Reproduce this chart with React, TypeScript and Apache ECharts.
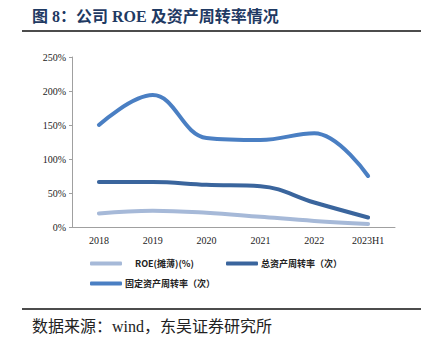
import React, { useEffect, useRef } from "react";
import * as echarts from "echarts";

const categories = ["2018", "2019", "2020", "2021", "2022", "2023H1"];
const roe = [20, 24, 21, 15, 9, 4.5];
const totalTurnover = [66, 66, 62, 60, 36, 14];
const fixedTurnover = [150, 194, 131, 128, 138, 75];
const seriesNames = ["ROE(摊薄)(%)", "总资产周转率（次）", "固定资产周转率（次）"];
const yTicks = [0, 50, 100, 150, 200, 250];

const colors = ["#a6b9d8", "#3a659d", "#4a7fc3"];
const serif = "'Liberation Serif', 'Times New Roman', 'Noto Sans CJK SC', serif";
const cjk = "'Noto Sans CJK SC', sans-serif";

export default function App() {
  const ref = useRef<HTMLDivElement>(null);
  useEffect(() => {
    if (!ref.current) return;
    const chart = echarts.init(ref.current, null, { renderer: "svg" });
    const values = [roe, totalTurnover, fixedTurnover];
    const legendPos = [
      { left: 90, top: 259 },
      { left: 226, top: 259 },
      { left: 90, top: 279 },
    ];
    chart.setOption({
      animation: false,
      backgroundColor: "#ffffff",
      grid: { left: 72, right: 36, top: 57, bottom: 113 },
      legend: seriesNames.map((n, i) => ({
        data: [n],
        left: legendPos[i].left,
        top: legendPos[i].top,
        padding: 0,
        itemWidth: 32,
        itemHeight: 4,
        itemGap: 0,
        icon: "roundRect",
        textStyle: { fontFamily: cjk, fontSize: 9, color: "#222", fontWeight: "bold", padding: [0, 0, 0, i === 0 ? 8 : -2] },
      })),
      xAxis: {
        type: "category",
        data: categories,
        boundaryGap: true,
        axisLine: { lineStyle: { color: "#a0a0a0", width: 1 } },
        axisTick: { show: false },
        axisLabel: { fontFamily: serif, fontSize: 10, color: "#222", margin: 8 },
      },
      yAxis: {
        type: "value",
        min: yTicks[0],
        max: yTicks[yTicks.length - 1],
        interval: 50,
        axisLine: { show: true, lineStyle: { color: "#a0a0a0", width: 1 } },
        axisTick: { show: true, length: 3, lineStyle: { color: "#a0a0a0" } },
        splitLine: { show: false },
        axisLabel: { formatter: "{value}%", fontFamily: serif, fontSize: 10, color: "#222", margin: 6 },
      },
      series: seriesNames.map((n, i) => ({
        name: n,
        type: "line",
        data: values[i],
        smooth: 0.4,
        showSymbol: false,
        symbol: "none",
        color: colors[i],
        lineStyle: { width: 4, color: colors[i], cap: "round" },
      })),
      graphic: [
        {
          type: "text",
          left: 32,
          top: 8,
          style: { text: "图 8：公司 ROE 及资产周转率情况", fontFamily: serif, fontSize: 16, fontWeight: "bold", fill: "#1f3a63" },
        },
        { type: "line", shape: { x1: 22, y1: 31, x2: 421, y2: 31 }, style: { stroke: "#111", lineWidth: 1.5 } },
        { type: "line", shape: { x1: 22, y1: 309, x2: 421, y2: 309 }, style: { stroke: "#111", lineWidth: 1.5 } },
        {
          type: "text",
          left: 32,
          top: 318,
          style: { text: "数据来源：wind，东吴证券研究所", fontFamily: serif, fontSize: 16, fill: "#222" },
        },
      ],
    });
    return () => chart.dispose();
  }, []);
  return <div ref={ref} style={{ position: "fixed", left: 0, top: 0, width: 431, height: 340 }} />;
}
